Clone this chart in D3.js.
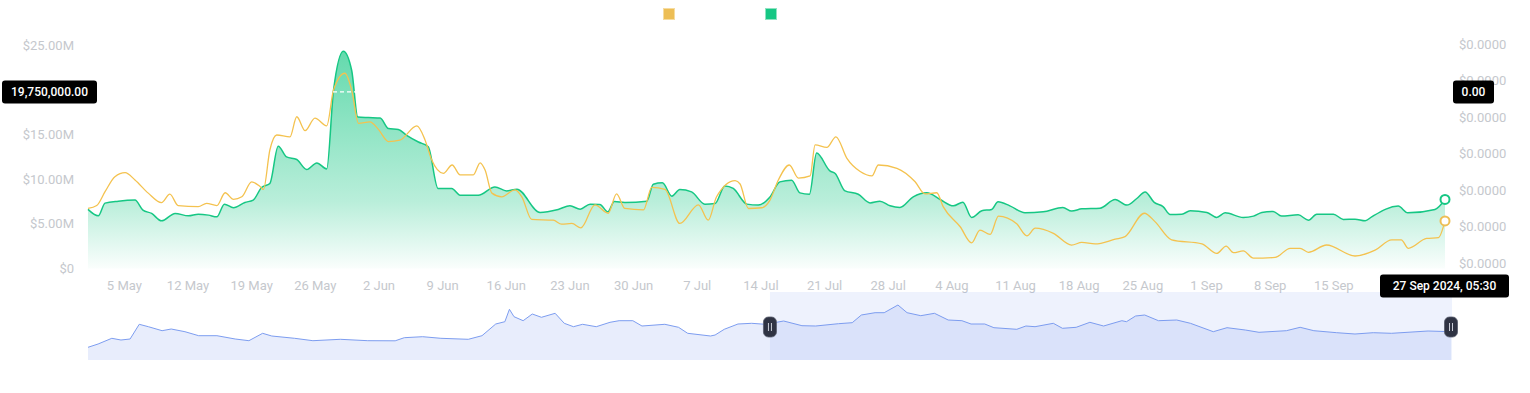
<!DOCTYPE html>
<html lang="en">
<head>
  <meta charset="UTF-8">
  <title>Volume and price</title>
  <script src="https://d3js.org/d3.v7.min.js"></script>
  <style>
    body { margin: 0; background: #fff; }
    svg text { font-family: Roboto, "Noto Sans", sans-serif; }
  </style>
</head>
<body>
<div id="chart"></div>
<script>
// Volume series (millions of USD)
const volumeDates = [
  "2024-05-01 00:00", "2024-05-02 03:00", "2024-05-02 21:00", "2024-05-04 08:00", "2024-05-06 04:00",
  "2024-05-07 01:00", "2024-05-08 00:00", "2024-05-09 02:00", "2024-05-10 14:00", "2024-05-12 01:00",
  "2024-05-13 03:00", "2024-05-14 06:00", "2024-05-15 04:00", "2024-05-16 00:00", "2024-05-17 00:00",
  "2024-05-18 06:00", "2024-05-19 04:00", "2024-05-20 02:00", "2024-05-21 00:00", "2024-05-21 22:00",
  "2024-05-22 20:00", "2024-05-23 23:00", "2024-05-25 01:00", "2024-05-26 04:00", "2024-05-27 06:00",
  "2024-05-28 00:00", "2024-05-29 02:00", "2024-05-30 00:00", "2024-05-30 16:00", "2024-05-31 20:00",
  "2024-06-02 03:00", "2024-06-03 01:00", "2024-06-04 03:00", "2024-06-05 01:00", "2024-06-06 08:00",
  "2024-06-07 10:00", "2024-06-08 12:00", "2024-06-10 00:00", "2024-06-10 22:00", "2024-06-12 22:00",
  "2024-06-14 18:00", "2024-06-16 01:00", "2024-06-17 04:00", "2024-06-19 17:00", "2024-06-21 17:00",
  "2024-06-23 00:00", "2024-06-24 03:00", "2024-06-25 05:00", "2024-06-26 07:00", "2024-06-27 04:00",
  "2024-06-27 21:00", "2024-06-29 01:00", "2024-07-01 11:00", "2024-07-02 04:00", "2024-07-03 04:00",
  "2024-07-04 05:00", "2024-07-05 02:00", "2024-07-06 09:00", "2024-07-07 20:00", "2024-07-08 23:00",
  "2024-07-10 01:00", "2024-07-10 23:00", "2024-07-12 11:00", "2024-07-13 17:00", "2024-07-15 00:00",
  "2024-07-16 02:00", "2024-07-17 09:00", "2024-07-18 07:00", "2024-07-19 08:00", "2024-07-20 03:00",
  "2024-07-21 14:00", "2024-07-22 04:00", "2024-07-23 06:00", "2024-07-24 17:00", "2024-07-26 00:00",
  "2024-07-27 02:00", "2024-07-28 05:00", "2024-07-29 07:00", "2024-07-30 18:00", "2024-08-01 06:00",
  "2024-08-02 17:00", "2024-08-04 04:00", "2024-08-05 05:00", "2024-08-06 04:00", "2024-08-07 07:00",
  "2024-08-08 09:00", "2024-08-09 02:00", "2024-08-10 09:00", "2024-08-12 01:00", "2024-08-14 01:00",
  "2024-08-16 05:00", "2024-08-17 04:00", "2024-08-18 07:00", "2024-08-20 07:00", "2024-08-21 23:00",
  "2024-08-23 06:00", "2024-08-24 08:00", "2024-08-25 06:00", "2024-08-26 06:00", "2024-08-27 06:00",
  "2024-08-28 00:00", "2024-08-29 07:00", "2024-08-30 05:00", "2024-09-01 01:00", "2024-09-02 03:00",
  "2024-09-03 01:00", "2024-09-05 01:00", "2024-09-06 04:00", "2024-09-07 02:00", "2024-09-08 08:00",
  "2024-09-09 06:00", "2024-09-11 02:00", "2024-09-12 05:00", "2024-09-13 03:00", "2024-09-14 23:00",
  "2024-09-16 01:00", "2024-09-17 08:00", "2024-09-18 11:00", "2024-09-19 04:00", "2024-09-22 02:00",
  "2024-09-23 03:00", "2024-09-26 03:00", "2024-09-27 05:30"
];
const volumeValues = [
  6.61, 5.89, 7.31, 7.53, 7.65, 6.53, 6.16, 5.33, 6.16, 5.89,
  6.08, 5.97, 5.78, 7.20, 6.79, 7.39, 7.65, 9.06, 9.51, 13.67,
  12.48, 12.19, 11.07, 11.81, 11.14, 19.92, 24.31, 22.15, 16.94, 16.88,
  16.83, 15.65, 15.54, 14.90, 14.15, 13.62, 8.95, 8.95, 8.20, 8.20,
  9.13, 8.68, 8.87, 6.27, 6.61, 7.01, 6.64, 7.20, 7.17, 6.34,
  7.50, 7.39, 7.53, 9.43, 9.58, 8.09, 8.84, 8.57, 7.20, 7.28,
  9.24, 8.95, 7.20, 7.09, 8.01, 9.69, 9.88, 8.46, 8.31, 12.92,
  10.92, 10.63, 8.68, 8.31, 7.34, 7.53, 7.01, 6.83, 8.01, 8.46,
  7.72, 7.01, 7.42, 5.71, 6.45, 6.61, 7.46, 7.01, 6.23, 6.34,
  6.83, 6.42, 6.67, 6.75, 7.72, 7.09, 7.83, 8.57, 7.39, 6.90,
  6.05, 6.08, 6.45, 6.27, 5.71, 6.23, 5.71, 5.86, 6.27, 6.38,
  5.86, 6.00, 5.41, 6.08, 6.08, 5.49, 5.52, 5.33, 5.78, 6.98,
  6.23, 6.61, 7.72
];

// Price series (micro-dollars, 1e-6 USD)
const priceDates = [
  "2024-05-01 00:00", "2024-05-01 23:00", "2024-05-02 21:00", "2024-05-03 23:00", "2024-05-05 02:00",
  "2024-05-06 04:00", "2024-05-07 15:00", "2024-05-09 02:00", "2024-05-10 00:00", "2024-05-10 22:00",
  "2024-05-13 03:00", "2024-05-14 01:00", "2024-05-15 04:00", "2024-05-16 02:00", "2024-05-17 00:00",
  "2024-05-17 22:00", "2024-05-19 00:00", "2024-05-19 22:00", "2024-05-20 07:00", "2024-05-21 00:00",
  "2024-05-21 18:00", "2024-05-23 05:00", "2024-05-23 23:00", "2024-05-24 21:00", "2024-05-25 23:00",
  "2024-05-27 06:00", "2024-05-28 00:00", "2024-05-29 06:00", "2024-05-30 00:00", "2024-05-30 18:00",
  "2024-06-01 00:00", "2024-06-01 22:00", "2024-06-03 01:00", "2024-06-04 07:00", "2024-06-06 04:00",
  "2024-06-07 01:00", "2024-06-07 19:00", "2024-06-09 02:00", "2024-06-10 01:00", "2024-06-10 22:00",
  "2024-06-12 09:00", "2024-06-13 03:00", "2024-06-13 16:00", "2024-06-14 10:00", "2024-06-15 12:00",
  "2024-06-16 23:00", "2024-06-17 17:00", "2024-06-18 19:00", "2024-06-21 04:00", "2024-06-22 02:00",
  "2024-06-23 05:00", "2024-06-24 05:00", "2024-06-25 18:00", "2024-06-27 05:00", "2024-06-28 03:00",
  "2024-06-29 01:00", "2024-07-01 02:00", "2024-07-02 00:00", "2024-07-03 11:00", "2024-07-05 02:00",
  "2024-07-07 03:00", "2024-07-08 05:00", "2024-07-09 03:00", "2024-07-11 04:00", "2024-07-11 17:00",
  "2024-07-12 15:00", "2024-07-14 02:00", "2024-07-15 00:00", "2024-07-15 22:00", "2024-07-17 03:00",
  "2024-07-18 03:00", "2024-07-19 10:00", "2024-07-19 23:00", "2024-07-21 06:00", "2024-07-22 06:00",
  "2024-07-23 11:00", "2024-07-24 22:00", "2024-07-26 05:00", "2024-07-26 22:00", "2024-07-28 23:00",
  "2024-07-30 23:00", "2024-08-01 01:00", "2024-08-02 08:00", "2024-08-03 01:00", "2024-08-04 22:00",
  "2024-08-06 04:00", "2024-08-07 02:00", "2024-08-08 05:00", "2024-08-09 03:00", "2024-08-11 03:00",
  "2024-08-12 06:00", "2024-08-13 04:00", "2024-08-15 04:00", "2024-08-17 04:00", "2024-08-18 07:00",
  "2024-08-19 18:00", "2024-08-21 23:00", "2024-08-23 01:00", "2024-08-25 04:00", "2024-08-26 08:00",
  "2024-08-28 04:00", "2024-08-31 12:00", "2024-09-02 03:00", "2024-09-03 04:00", "2024-09-03 23:00",
  "2024-09-05 01:00", "2024-09-06 04:00", "2024-09-08 13:00", "2024-09-10 05:00", "2024-09-11 07:00",
  "2024-09-12 05:00", "2024-09-14 05:00", "2024-09-17 08:00", "2024-09-19 13:00", "2024-09-21 09:00",
  "2024-09-22 10:00", "2024-09-23 05:00", "2024-09-25 05:00", "2024-09-26 12:00", "2024-09-27 05:30"
];
const priceValues = [
  1.50, 1.58, 1.96, 2.37, 2.48, 2.28, 1.92, 1.66, 1.89, 1.58,
  1.55, 1.64, 1.58, 1.93, 1.75, 1.82, 2.23, 2.10, 2.02, 3.10,
  3.51, 3.46, 4.01, 3.63, 3.97, 3.76, 4.74, 5.20, 4.74, 3.83,
  3.87, 3.67, 3.33, 3.37, 3.76, 3.39, 2.83, 2.46, 2.69, 2.42,
  2.42, 2.75, 2.55, 1.92, 1.82, 2.01, 1.82, 1.20, 1.18, 1.07,
  1.09, 0.97, 1.60, 1.37, 1.90, 1.50, 1.46, 2.08, 2.02, 1.09,
  1.60, 1.18, 1.82, 2.26, 2.17, 1.50, 1.52, 1.73, 2.28, 2.69,
  2.33, 2.39, 3.24, 3.17, 3.46, 2.87, 2.51, 2.39, 2.69, 2.60,
  2.23, 1.90, 1.93, 1.55, 1.00, 0.56, 0.91, 0.79, 1.29, 1.08,
  0.75, 0.96, 0.82, 0.50, 0.57, 0.53, 0.66, 0.73, 1.37, 1.14,
  0.64, 0.53, 0.27, 0.47, 0.29, 0.34, 0.14, 0.16, 0.41, 0.41,
  0.30, 0.50, 0.20, 0.36, 0.64, 0.64, 0.41, 0.68, 0.70, 1.16
];

// Navigator overview series (relative units)
const navDates = [
  "2023-12-03", "2023-12-06", "2023-12-09", "2023-12-11", "2023-12-13", "2023-12-15", "2023-12-17",
  "2023-12-20", "2023-12-22", "2023-12-25", "2023-12-28", "2024-01-01", "2024-01-05", "2024-01-08",
  "2024-01-11", "2024-01-13", "2024-01-18", "2024-01-22", "2024-01-28", "2024-02-03", "2024-02-09",
  "2024-02-11", "2024-02-15", "2024-02-19", "2024-02-25", "2024-02-28", "2024-03-02", "2024-03-04",
  "2024-03-05", "2024-03-06", "2024-03-08", "2024-03-10", "2024-03-12", "2024-03-15", "2024-03-17",
  "2024-03-19", "2024-03-21", "2024-03-24", "2024-03-27", "2024-03-29", "2024-04-01", "2024-04-03",
  "2024-04-08", "2024-04-11", "2024-04-13", "2024-04-18", "2024-04-19", "2024-04-21", "2024-04-24",
  "2024-04-27", "2024-04-30", "2024-05-04", "2024-05-08", "2024-05-11", "2024-05-16", "2024-05-19",
  "2024-05-21", "2024-05-24", "2024-05-26", "2024-05-29", "2024-05-31", "2024-06-03", "2024-06-06",
  "2024-06-09", "2024-06-12", "2024-06-14", "2024-06-17", "2024-06-19", "2024-06-24", "2024-06-26",
  "2024-06-28", "2024-07-02", "2024-07-04", "2024-07-07", "2024-07-10", "2024-07-13", "2024-07-17",
  "2024-07-18", "2024-07-20", "2024-07-22", "2024-07-25", "2024-07-29", "2024-08-01", "2024-08-06",
  "2024-08-09", "2024-08-13", "2024-08-16", "2024-08-22", "2024-08-25", "2024-08-28", "2024-09-02",
  "2024-09-06", "2024-09-10", "2024-09-14", "2024-09-22", "2024-09-27"
];
const navValues = [
  12.7, 16.0, 21.7, 20.0, 21.0, 35.7, 33.3, 29.3, 31.0, 28.3, 24.3, 24.3, 21.0, 19.3,
  26.7, 24.0, 21.7, 19.3, 20.7, 19.3, 19.2, 22.3, 23.3, 21.7, 20.7, 24.3, 36.0, 38.3,
  50.7, 43.3, 39.3, 46.0, 42.7, 46.7, 36.7, 33.3, 35.7, 33.3, 37.7, 39.3, 39.3, 34.0,
  35.7, 32.7, 26.7, 24.0, 25.0, 30.7, 36.0, 36.7, 35.7, 39.0, 34.3, 34.0, 36.3, 37.3,
  45.0, 47.3, 47.3, 55.0, 47.3, 44.3, 46.7, 40.0, 39.3, 36.0, 36.0, 32.3, 30.7, 34.0,
  33.3, 36.7, 31.7, 32.7, 37.7, 34.0, 39.3, 38.3, 44.0, 45.0, 39.3, 40.0, 36.7, 28.3,
  32.3, 30.0, 27.7, 29.3, 32.7, 29.3, 27.3, 26.0, 27.3, 26.7, 29.0, 28.3
];

// Axis ticks
const volumeTicks = [0, 5, 10, 15, 20, 25];
const priceTicks = [0, 1, 2, 3, 4, 5, 6];

// Hover readouts
const hoverVolume = 19.75;
const hoverLeftLabel = "19,750,000.00";
const hoverRightLabel = "0.00";
const hoverDateLabel = "27 Sep 2024, 05:30";

const green = "#16c784";
const yellow = "#f4c24f";
const navBlue = "#7d9df0";

const parseTime = d3.timeParse("%Y-%m-%d %H:%M");
const parseDay = d3.timeParse("%Y-%m-%d");

const volume = volumeDates.map((d, i) => ({ date: parseTime(d), value: volumeValues[i] }));
const price = priceDates.map((d, i) => ({ date: parseTime(d), value: priceValues[i] }));
const nav = navDates.map((d, i) => ({ date: parseDay(d), value: navValues[i] }));

const svg = d3.select("#chart").append("svg")
  .attr("width", 1530)
  .attr("height", 393);

// Scales
const xDomain = [volume[0].date, volume[volume.length - 1].date];
const x = d3.scaleTime().domain(xDomain).range([88, 1445]);
const yVol = d3.scaleLinear().domain([0, 25]).range([268.5, 45]);
const yPrice = d3.scaleLinear().domain([0, 6]).range([263.3, 44]);

const navX = d3.scaleTime().domain([parseTime("2023-12-03 19:00"), xDomain[1]]).range([88, 1452]).clamp(true);
const navY = d3.scaleLinear().domain([0, 68]).range([360, 292]);

// Boxes of the hover readouts (ticks under them are hidden, as on the page)
const leftTag = { cx: 49.5, cy: yVol(hoverVolume), w: 95 };
const rightTag = { cx: 1473.5, cy: yVol(hoverVolume), w: 41 };
const dateTag = { cx: 1444.5, cy: 286, w: 129 };

// Gradient for the volume area
const defs = svg.append("defs");
const grad = defs.append("linearGradient")
  .attr("id", "volFill")
  .attr("gradientUnits", "userSpaceOnUse")
  .attr("x1", 0).attr("x2", 0)
  .attr("y1", yVol(25)).attr("y2", yVol(0));
grad.append("stop").attr("offset", 0).attr("stop-color", green).attr("stop-opacity", 0.68);
grad.append("stop").attr("offset", 0.7).attr("stop-color", green).attr("stop-opacity", 0.3);
grad.append("stop").attr("offset", 1).attr("stop-color", green).attr("stop-opacity", 0.02);

// Legend squares
svg.append("rect").attr("x", 663.5).attr("y", 8.5).attr("width", 11).attr("height", 11)
  .attr("fill", "#edbe55").attr("stroke", "#f6dca0").attr("stroke-width", 1);
svg.append("rect").attr("x", 765.5).attr("y", 8.5).attr("width", 11).attr("height", 11)
  .attr("fill", green).attr("stroke", "#8fe3c2").attr("stroke-width", 1);

// Left axis
svg.append("g").selectAll("text")
  .data(volumeTicks.filter(d => Math.abs(yVol(d) - leftTag.cy) > 12))
  .enter().append("text")
    .attr("x", 74)
    .attr("y", d => yVol(d))
    .attr("dy", "0.35em")
    .attr("text-anchor", "end")
    .attr("font-size", 13)
    .attr("fill", "#c5c8cd")
    .text(d => d === 0 ? "$0" : `$${d.toFixed(2)}M`);

// Right axis
const fmtPrice = d3.format("$.4f");
svg.append("g").selectAll("text")
  .data(priceTicks)
  .enter().append("text")
    .attr("x", 1459)
    .attr("y", d => yPrice(d))
    .attr("dy", "0.35em")
    .attr("font-size", 13)
    .attr("fill", "#c5c8cd")
    .text(d => fmtPrice(d * 1e-6));

// Bottom axis
const weekTicks = d3.timeWeek.range(d3.timeDay.offset(xDomain[0], 1), xDomain[1])
  .filter(d => x(d) < dateTag.cx - dateTag.w / 2 - 20);
svg.append("g").selectAll("text")
  .data(weekTicks)
  .enter().append("text")
    .attr("x", d => x(d))
    .attr("y", 285)
    .attr("dy", "0.35em")
    .attr("text-anchor", "middle")
    .attr("font-size", 13)
    .attr("fill", "#c5c8cd")
    .text(d3.timeFormat("%-d %b"));

// Volume area and line
const curve = d3.curveMonotoneX;
svg.append("path")
  .datum(volume)
  .attr("fill", "url(#volFill)")
  .attr("d", d3.area().curve(curve).x(d => x(d.date)).y0(yVol(0)).y1(d => yVol(d.value)));

svg.append("path")
  .datum(volume)
  .attr("fill", "none")
  .attr("stroke", green)
  .attr("stroke-width", 1.5)
  .attr("d", d3.line().curve(curve).x(d => x(d.date)).y(d => yVol(d.value)));

// Price line
svg.append("path")
  .datum(price)
  .attr("fill", "none")
  .attr("stroke", yellow)
  .attr("stroke-width", 1.3)
  .attr("d", d3.line().curve(curve).x(d => x(d.date)).y(d => yPrice(d.value)));

// Crosshair (white dashes only show over the fill)
svg.append("line")
  .attr("x1", 88).attr("x2", 1445)
  .attr("y1", yVol(hoverVolume)).attr("y2", yVol(hoverVolume))
  .attr("stroke", "#fff").attr("stroke-width", 1.2).attr("stroke-dasharray", "4 3");

// End markers
const lastVol = volume[volume.length - 1];
const lastPrice = price[price.length - 1];
svg.append("circle").attr("cx", x(lastVol.date)).attr("cy", yVol(lastVol.value)).attr("r", 4.5)
  .attr("fill", "#fff").attr("stroke", green).attr("stroke-width", 2);
svg.append("circle").attr("cx", x(lastPrice.date)).attr("cy", yPrice(lastPrice.value)).attr("r", 4.5)
  .attr("fill", "#fff").attr("stroke", "#edbe55").attr("stroke-width", 2);

// Navigator
svg.append("path")
  .datum(nav)
  .attr("fill", navBlue).attr("fill-opacity", 0.18)
  .attr("d", d3.area().x(d => navX(d.date)).y0(navY(0)).y1(d => navY(d.value)));
svg.append("path")
  .datum(nav)
  .attr("fill", "none").attr("stroke", navBlue).attr("stroke-width", 1)
  .attr("d", d3.line().x(d => navX(d.date)).y(d => navY(d.value)));

const selX0 = navX(xDomain[0]);
const selX1 = navX(xDomain[1]);
svg.append("rect")
  .attr("x", selX0).attr("y", navY(68))
  .attr("width", selX1 - selX0).attr("height", navY(0) - navY(68))
  .attr("fill", navBlue).attr("fill-opacity", 0.13);

[selX0, selX1 - 1].forEach(hx => {
  const h = svg.append("g").attr("transform", `translate(${hx},327)`);
  h.append("rect").attr("x", -6.5).attr("y", -10).attr("width", 13).attr("height", 20).attr("rx", 5)
    .attr("fill", "#2f3343").attr("stroke", "#555a6b").attr("stroke-width", 0.8);
  h.append("line").attr("x1", -1.5).attr("x2", -1.5).attr("y1", -4).attr("y2", 4)
    .attr("stroke", "#c9ccd6").attr("stroke-width", 1);
  h.append("line").attr("x1", 1.5).attr("x2", 1.5).attr("y1", -4).attr("y2", 4)
    .attr("stroke", "#c9ccd6").attr("stroke-width", 1);
});

// Hover labels
function tag(t, label) {
  const g = svg.append("g");
  g.append("rect").attr("x", t.cx - t.w / 2).attr("y", t.cy - 11.5).attr("width", t.w).attr("height", 23)
    .attr("rx", 3).attr("fill", "#000");
  g.append("text").attr("x", t.cx).attr("y", t.cy).attr("dy", "0.35em")
    .attr("text-anchor", "middle").attr("font-size", 12).attr("font-weight", 500)
    .attr("fill", "#fff").text(label);
}
tag(leftTag, hoverLeftLabel);
tag(rightTag, hoverRightLabel);
tag(dateTag, hoverDateLabel);
</script>
</body>
</html>
